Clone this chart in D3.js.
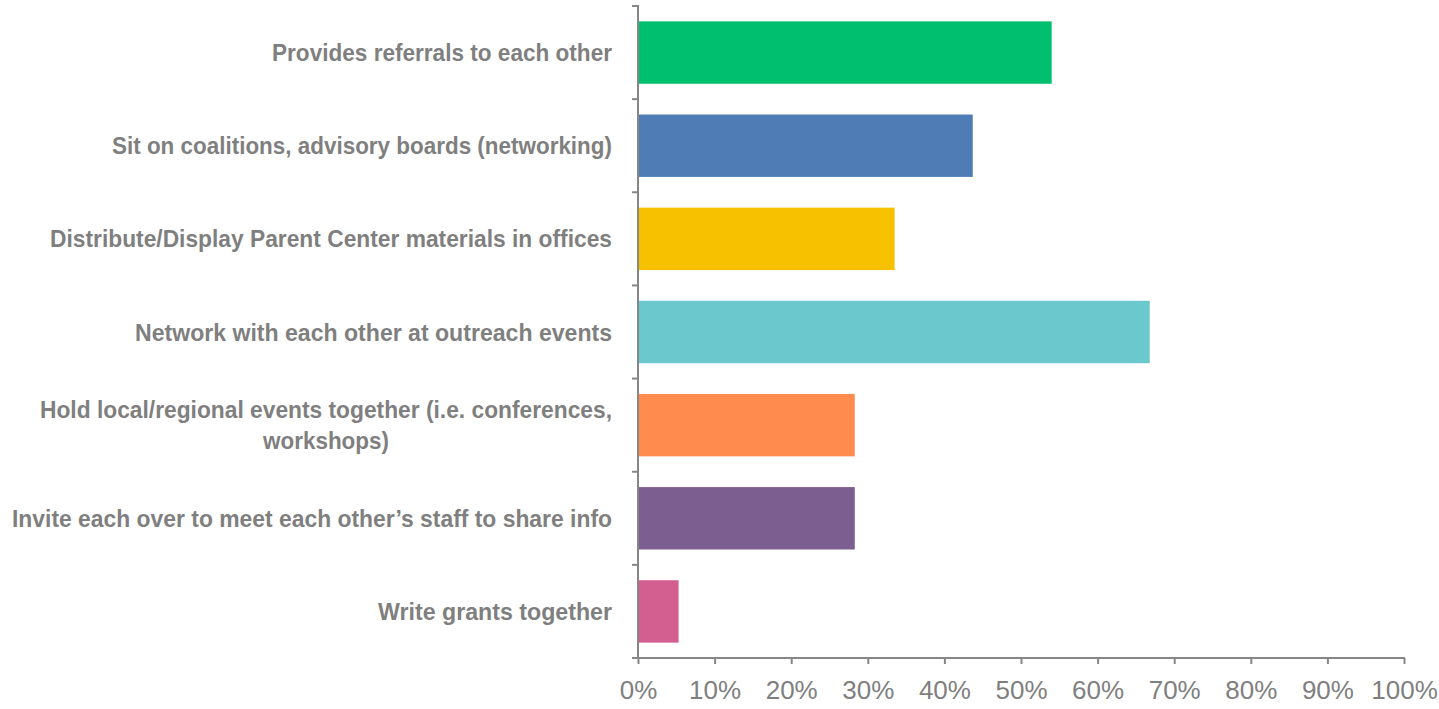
<!DOCTYPE html>
<html><head><meta charset="utf-8">
<script src="https://cdn.jsdelivr.net/npm/d3@7"></script>
<style>html,body{margin:0;padding:0;background:#fff;}</style>
</head><body>
<svg id="chart" width="1439" height="709"></svg>
<script>
const categories = [
  ["Provides referrals to each other"],
  ["Sit on coalitions, advisory boards (networking)"],
  ["Distribute/Display Parent Center materials in offices"],
  ["Network with each other at outreach events"],
  ["Hold local/regional events together (i.e. conferences,", "workshops)"],
  ["Invite each over to meet each other\u2019s staff to share info"],
  ["Write grants together"]
];
const values = [0.540, 0.437, 0.335, 0.668, 0.283, 0.283, 0.053];
const colors = ["#00BF6F", "#507CB6", "#F7C100", "#6BC8CD", "#FF8B4F", "#7D5E90", "#D35F90"];
const tickValues = [0,0.1,0.2,0.3,0.4,0.5,0.6,0.7,0.8,0.9,1.0];
const labelWidths = [[340],[500],[562],[477],[572,126],[600],[234]];

const svg = d3.select("#chart");
const axisColor = "#868686", textColor = "#7f7f7f";
const x0 = 638, x1 = 1404, yTop = 6, yBot = 658;
const x = d3.scaleLinear().domain([0,1]).range([x0,x1]);
const y = d3.scaleBand().domain(d3.range(categories.length)).range([yTop,yBot]).paddingInner(0.33).paddingOuter(0.165);

svg.append("g").selectAll("rect").data(values).join("rect")
  .attr("x", x(0)).attr("y",(d,i)=>y(i)).attr("width", d=>x(d)-x(0)).attr("height", y.bandwidth())
  .attr("fill",(d,i)=>colors[i]);

// x axis
const xg = svg.append("g").attr("transform",`translate(0,${yBot})`)
  .call(d3.axisBottom(x).tickValues(tickValues).tickFormat(d3.format(".0%")).tickSize(6).tickPadding(15));
xg.select(".domain").attr("stroke",axisColor).attr("stroke-width",2).attr("d",`M${x0-6},0H${x1+1}`);
xg.selectAll(".tick line").attr("stroke",axisColor).attr("stroke-width",2);
xg.selectAll(".tick text").attr("fill",textColor).attr("font-family","'Liberation Sans Narrow', 'Liberation Sans', sans-serif").attr("font-size",26).attr("dy","0.75em");

// y axis
const step = (yBot-yTop)/categories.length;
const yg = svg.append("g");
yg.append("line").attr("x1",x0).attr("x2",x0).attr("y1",yTop-1).attr("y2",yBot).attr("stroke",axisColor).attr("stroke-width",2);
yg.selectAll("line.t").data(d3.range(categories.length)).join("line").attr("class","t")
  .attr("x1",x0-6).attr("x2",x0).attr("y1",i=>yTop+i*step).attr("y2",i=>yTop+i*step)
  .attr("stroke",axisColor).attr("stroke-width",2);

// labels
const labelRight = 612;
categories.forEach((lines,i)=>{
  const cy = y(i)+y.bandwidth()/2;
  const maxW = d3.max(labelWidths[i]);
  const cx = labelRight - maxW/2;
  const lh = 31;
  lines.forEach((t,j)=>{
    const ty = cy + (j-(lines.length-1)/2)*lh;
    svg.append("text").attr("x",cx).attr("y",ty).attr("dy","0.36em")
      .attr("text-anchor","middle")
      .attr("font-family","'Liberation Sans Narrow', 'Liberation Sans', sans-serif")
      .attr("font-weight","bold").attr("font-size",24).attr("fill",textColor)
      .attr("textLength",labelWidths[i][j]).attr("lengthAdjust","spacingAndGlyphs")
      .text(t);
  });
});
</script>
</body></html>
